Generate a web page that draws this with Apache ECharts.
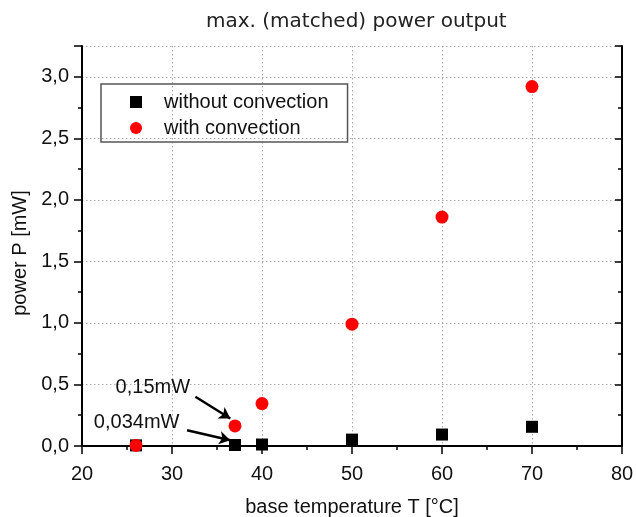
<!DOCTYPE html>
<html lang="en">

<head>
  <meta charset="UTF-8">
  <title>max. (matched) power output</title>
  <script src="https://cdn.jsdelivr.net/npm/echarts@6/dist/echarts.min.js"></script>
</head>

<body style="margin:0">
  <div id="main" style="width: 636px;height:517px;"></div>
  <script>
    // base temperature T [°C]
    var temps = [26, 37, 40, 50, 60, 70];
    // power P [mW]
    var withoutConv = [0.005, 0.008, 0.012, 0.052, 0.093, 0.156];
    var withConv = [0.005, 0.163, 0.345, 0.99, 1.86, 2.92];
    // annotations: text, text anchor, arrow start, arrow end (data units)
    var noteTexts = ['0,15mW', '0,034mW'];
    var noteAt = [[27.87, 0.475], [26.07, 0.195]];
    var arrowFrom = [[32.6, 0.40], [31.67, 0.128]];
    var arrowTo = [[36.48, 0.223], [36.48, 0.047]];

    var FONT = 'Liberation Sans';
    var myChart = echarts.init(document.getElementById('main'));

    function pairs(ys) {
      return temps.map(function (t, i) { return [t, ys[i]]; });
    }
    function yLabel(v) {
      var k = v / 0.5;
      if (Math.abs(k - Math.round(k)) > 1e-6) return '';
      return v.toFixed(1).replace('.', ',');
    }

    var gridLine = { show: true, lineStyle: { color: '#aaa', width: 1, type: [1.5, 2.5] } };

    var option = {
      animation: false,
      title: {
        text: 'max. (matched) power output',
        left: 201,
        top: 7,
        textStyle: { fontFamily: 'DejaVu Sans', fontSize: 20, fontWeight: 'normal', color: '#222' }
      },
      grid: { left: 82, right: 14, top: 46, bottom: 71, outerBoundsMode: 'none', containLabel: false },
      legend: {
        orient: 'vertical',
        left: 101,
        top: 84,
        padding: [8, 19, 4, 29],
        itemGap: 6,
        itemWidth: 12,
        itemHeight: 12,
        borderColor: '#555',
        borderWidth: 1.5,
        textStyle: { fontFamily: FONT, fontSize: 20, lineHeight: 20, color: '#111', padding: [0, 0, 0, 17] },
        data: [
          { name: 'without convection', icon: 'rect', itemStyle: { color: '#000', opacity: 1 } },
          { name: 'with convection', icon: 'circle', itemStyle: { color: '#ff0000', opacity: 1 } }
        ]
      },
      xAxis: [{
        type: 'value', min: 20, max: 80, interval: 10,
        name: 'base temperature T [°C]', nameLocation: 'middle', nameGap: 51,
        nameTextStyle: { fontFamily: FONT, fontSize: 20, color: '#111' },
        axisLine: { lineStyle: { color: '#000', width: 2 } },
        axisTick: { length: 8, lineStyle: { color: '#000', width: 1.5 } },
        minorTick: { show: true, splitNumber: 2, length: 4, lineStyle: { color: '#000', width: 1.5 } },
        axisLabel: { fontFamily: FONT, fontSize: 20, color: '#111', margin: 18 },
        splitLine: gridLine
      }, {
        type: 'value', position: 'top', min: 20, max: 80, interval: 10,
        axisLine: { lineStyle: { color: '#000', width: 2 } },
        axisTick: { inside: true, length: 7, lineStyle: { color: '#000', width: 1.5 } },
        minorTick: { show: true, splitNumber: 2, length: 4, lineStyle: { color: '#000', width: 1.5 } },
        axisLabel: { show: false },
        splitLine: { show: false }
      }],
      yAxis: [{
        type: 'value', min: 0, max: 3.25, interval: 0.5,
        name: 'power P [mW]', nameLocation: 'middle', nameGap: 50,
        nameTextStyle: { fontFamily: FONT, fontSize: 20, color: '#111', padding: [0, 14, 0, 0] },
        axisLine: { show: true, lineStyle: { color: '#000', width: 2 } },
        axisTick: { show: true, length: 8, lineStyle: { color: '#000', width: 1.5 } },
        minorTick: { show: true, splitNumber: 2, length: 4, lineStyle: { color: '#000', width: 1.5 } },
        axisLabel: { fontFamily: FONT, fontSize: 20, color: '#111', margin: 13, formatter: yLabel },
        splitLine: gridLine
      }, {
        type: 'value', position: 'right', min: 0, max: 3.25, interval: 0.5,
        axisLine: { show: true, lineStyle: { color: '#000', width: 2 } },
        axisTick: { show: true, inside: true, length: 7, lineStyle: { color: '#000', width: 1.5 } },
        minorTick: { show: true, splitNumber: 2, length: 4, lineStyle: { color: '#000', width: 1.5 } },
        axisLabel: { show: false },
        splitLine: { show: false }
      }],
      series: [
        {
          name: 'without convection',
          type: 'scatter',
          symbol: 'rect',
          symbolSize: 12,
          clip: true,
          z: 2,
          itemStyle: { color: '#000', opacity: 1 },
          data: pairs(withoutConv),
          markLine: {
            silent: true,
            symbol: ['none', 'arrow'],
            symbolSize: [10, 11],
            label: { show: false },
            lineStyle: { color: '#000', width: 2.5, type: 'solid' },
            data: arrowFrom.map(function (p, i) {
              return [{ coord: p }, { coord: arrowTo[i] }];
            })
          },
          markPoint: {
            silent: true,
            symbol: 'circle',
            symbolSize: 0,
            label: {
              show: true, position: 'inside', fontFamily: FONT, fontSize: 20, color: '#111',
              formatter: function (p) { return p.name; }
            },
            data: noteAt.map(function (p, i) { return { name: noteTexts[i], coord: p }; })
          }
        },
        {
          name: 'with convection',
          type: 'scatter',
          symbol: 'circle',
          symbolSize: 13,
          clip: true,
          z: 3,
          itemStyle: { color: '#ff0000', opacity: 1 },
          data: pairs(withConv)
        }
      ]
    };

    myChart.setOption(option);
  </script>
</body>

</html>
